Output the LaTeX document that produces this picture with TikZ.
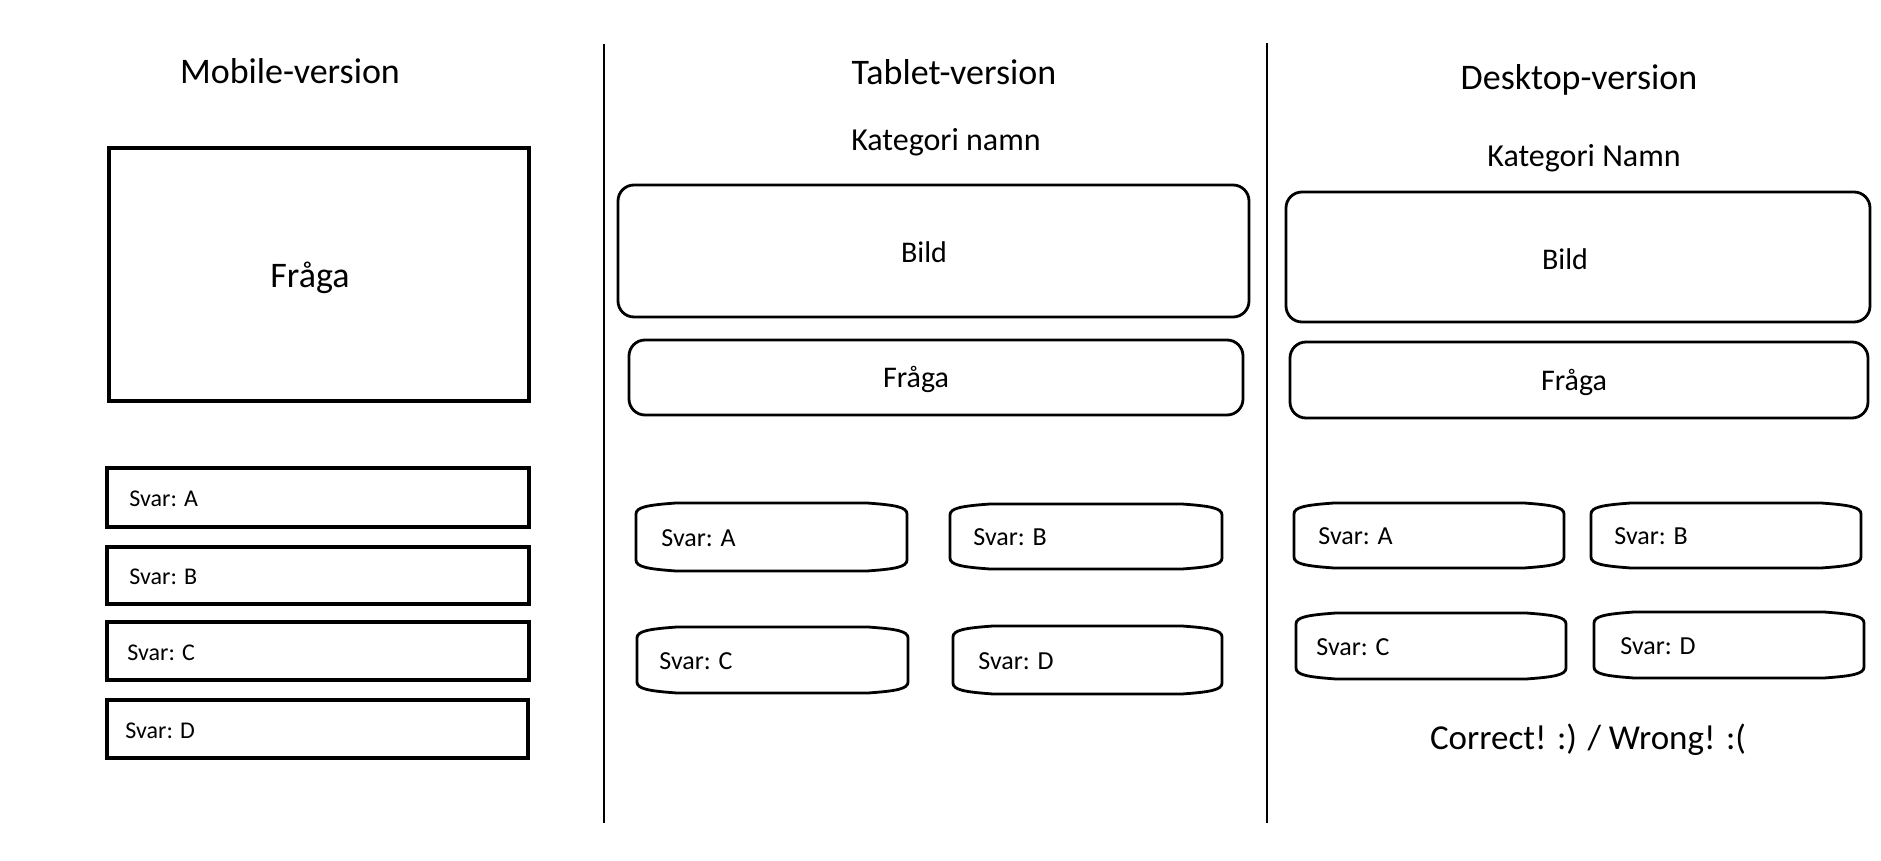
\documentclass[tikz,border=0pt]{standalone}
\usepackage{fontspec}
\setmainfont{Carlito}
\newcommand\svarcan[7]{%
  \draw[canline] (#2,#3+11) .. controls (#2,#3+4) and (#2+12,#3+2) .. (#2+40,#3) -- (#4-40,#3) .. controls (#4-12,#3+2) and (#4,#3+4) .. (#4,#3+11) -- (#4,#5-11) .. controls (#4,#5-4) and (#4-12,#5-2) .. (#4-40,#5) -- (#2+40,#5) .. controls (#2+12,#5-2) and (#2,#5-4) .. (#2,#5-11) -- cycle;
  \node[svar] (#1) at (#6,{(#3+#5)/2+1}) {#7};
}
\begin{document}
\begin{tikzpicture}[x=0.5pt,y=-0.5pt,
  title/.style={font=\fontsize{18}{22}\selectfont, anchor=base, inner sep=0},
  sub/.style={font=\fontsize{16}{19}\selectfont, anchor=base, inner sep=0},
  lbl/.style={font=\fontsize{15}{18}\selectfont, anchor=base, inner sep=0},
  bigl/.style={font=\fontsize{18}{22}\selectfont, anchor=base, inner sep=0},
  res/.style={font=\fontsize{17.5}{21}\selectfont, anchor=base, inner sep=0},
  svarm/.style={font=\fontsize{12}{14}\selectfont, anchor=west, inner sep=0},
  svar/.style={font=\fontsize{13}{15}\selectfont, anchor=west, inner sep=0},
  sqbox/.style={draw, line width=1.6pt, inner sep=0},
  rbox/.style={draw, line width=1.4pt, rounded corners=8pt, inner sep=0},
  canline/.style={draw, line width=1.4pt},
  divider/.style={line width=1.2pt}]
\useasboundingbox (0,0) rectangle (1881,861);
% dividers
\coordinate (d1t) at (604,44); \coordinate (d1b) at (604,823);
\coordinate (d2t) at (1267,43); \coordinate (d2b) at (1267,823);
\draw[divider] (d1t) -- (d1b);
\draw[divider] (d2t) -- (d2b);
% mobile
\node[title] (mtitle) at (290,84) {Mobile-version};
\node[sqbox, minimum width=210pt, minimum height=126.5pt] (mfraga) at (319,274.5) {};
\node[bigl] (mfragat) at (310,288) {Fråga};
\node[sqbox, minimum width=211pt, minimum height=29.5pt] (ma) at (318,497.5) {};
\node[sqbox, minimum width=211pt, minimum height=28.5pt] (mb) at (318,575.5) {};
\node[sqbox, minimum width=211pt, minimum height=29pt] (mc) at (318,651) {};
\node[sqbox, minimum width=210.5pt, minimum height=29pt] (md) at (317.5,729) {};
\node[svarm] (mat) at (129,498.5) {Svar: A};
\node[svarm] (mbt) at (129,577) {Svar: B};
\node[svarm] (mct) at (127,653) {Svar: C};
\node[svarm] (mdt) at (125,731) {Svar: D};
% tablet
\node[title] (ttitle) at (954,85) {Tablet-version};
\node[sub] (tkat) at (946,151) {Kategori namn};
\node[rbox, minimum width=315.5pt, minimum height=66pt] (tbild) at (933.5,251) {};
\node[lbl] (tbildt) at (924,263) {Bild};
\node[rbox, minimum width=307pt, minimum height=37.5pt] (tfraga) at (936,377.5) {};
\node[lbl] (tfragat) at (916,387) {Fråga};
\svarcan{ta}{636}{503}{907}{571}{661}{Svar: A}
\svarcan{tb}{950}{504}{1222}{569}{973}{Svar: B}
\svarcan{tc}{637}{627}{908}{693}{659}{Svar: C}
\svarcan{td}{953}{626}{1222}{694}{978}{Svar: D}
% desktop
\node[title] (dtitle) at (1579,90) {Desktop-version};
\node[sub] (dkat) at (1584,167) {Kategori Namn};
\node[rbox, minimum width=292pt, minimum height=65pt] (dbild) at (1578,257) {};
\node[lbl] (dbildt) at (1565,270) {Bild};
\node[rbox, minimum width=289pt, minimum height=38pt] (dfraga) at (1579,380) {};
\node[lbl] (dfragat) at (1574,391) {Fråga};
\svarcan{da}{1294}{503}{1564}{568}{1318}{Svar: A}
\svarcan{db}{1591}{503}{1861}{568}{1614}{Svar: B}
\svarcan{dc}{1296}{613}{1566}{679}{1316}{Svar: C}
\svarcan{dd}{1594}{612}{1864}{678}{1620}{Svar: D}
\node[res] (dres) at (1588,749) {Correct! :) / Wrong! :(};
\end{tikzpicture}
\end{document}
